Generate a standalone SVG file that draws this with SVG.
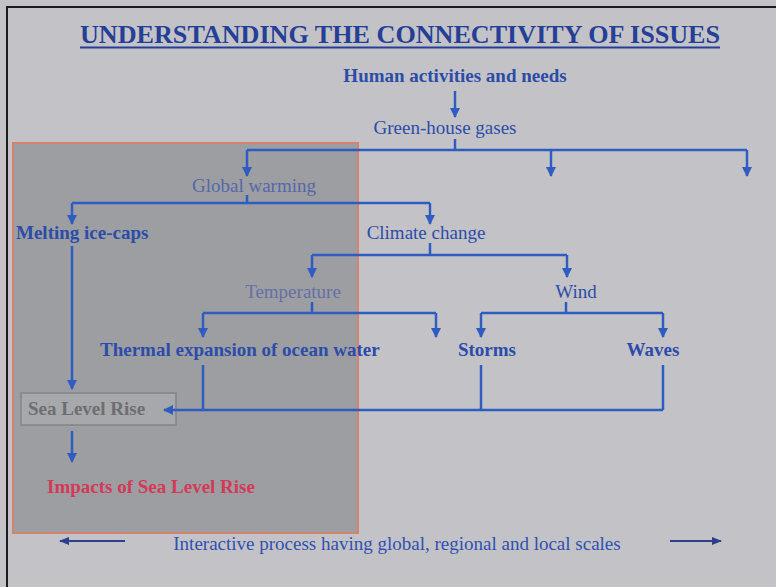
<svg xmlns="http://www.w3.org/2000/svg" width="776" height="587" viewBox="0 0 776 587">
<defs>
<marker id="ah" viewBox="0 0 10 10" refX="9" refY="5" markerWidth="4" markerHeight="4" orient="auto" markerUnits="strokeWidth">
<path d="M0,0 L10,5 L0,10 z" fill="#2f5cc0"/>
</marker>
<marker id="ahd" viewBox="0 0 10 10" refX="9" refY="5" markerWidth="5" markerHeight="5" orient="auto" markerUnits="strokeWidth">
<path d="M0,1 L10,5 L0,9 z" fill="#2b3f8c"/>
</marker>
<style>
text{font-family:"Liberation Serif","Times New Roman",serif;font-size:19px;fill:#2c4ca8}
.b{font-weight:bold}
.mid{text-anchor:middle}
.ln{fill:none;stroke:#2f5cc0;stroke-width:2.5}
.arr{marker-end:url(#ah)}
</style>
</defs>
<rect width="776" height="587" fill="#c3c3c7"/>
<path d="M7,587 V7 H776" fill="none" stroke="#1a1a1a" stroke-width="2"/>
<rect x="13" y="143" width="345" height="390" fill="#9c9ea2" stroke="#d4846e" stroke-width="2"/>

<g id="title">
<text x="400" y="43" class="b mid" style="font-size:25px;fill:#253f96" textLength="640" lengthAdjust="spacingAndGlyphs">UNDERSTANDING THE CONNECTIVITY OF ISSUES</text>
<line x1="80" y1="47.5" x2="720" y2="47.5" stroke="#253f96" stroke-width="2"/>
</g>

<g id="slr">
<rect x="21" y="393" width="155" height="32" fill="#a6a8ac" stroke="#828488" stroke-width="1.5"/>
<text x="28" y="415" class="b" style="fill:#6e6e70">Sea Level Rise</text>
</g>

<g id="connectors">
<line class="ln arr" x1="455" y1="91" x2="455" y2="117"/>
<path class="ln" d="M455,139 V150 M247,150 H747"/>
<path class="ln arr" d="M247,150 V176"/>
<path class="ln arr" d="M551,150 V176"/>
<path class="ln arr" d="M747,150 V176"/>
<path class="ln" d="M247,195 V203 M72,203 H430"/>
<path class="ln arr" d="M72,203 V224"/>
<path class="ln arr" d="M430,203 V224"/>
<path class="ln arr" d="M72,246 V389"/>
<path class="ln" d="M430,243 V255 M312,255 H567"/>
<path class="ln arr" d="M312,255 V277"/>
<path class="ln arr" d="M567,255 V277"/>
<path class="ln" d="M312,302 V313 M203,313 H436"/>
<path class="ln arr" d="M203,313 V337"/>
<path class="ln arr" d="M436,313 V337"/>
<path class="ln" d="M566,302 V313 M481,313 H663"/>
<path class="ln arr" d="M481,313 V337"/>
<path class="ln arr" d="M663,313 V337"/>
<path class="ln" d="M203,365 V410 M481,365 V410 M663,365 V410"/>
<path class="ln arr" d="M663,410 H164"/>
<path class="ln arr" d="M72,431 V462"/>
<path d="M125,541 H60" fill="none" stroke="#2b3f8c" stroke-width="2" marker-end="url(#ahd)"/>
<path d="M670,541 H721" fill="none" stroke="#2b3f8c" stroke-width="2" marker-end="url(#ahd)"/>
</g>

<g id="human"><text x="455" y="82" class="b mid">Human activities and needs</text></g>
<g id="ghg"><text x="445" y="134" class="mid">Green-house gases</text></g>
<g id="global"><text x="254" y="192" class="mid" style="fill:#5668a8">Global warming</text></g>
<g id="melting"><text x="16" y="239" class="b">Melting ice-caps</text></g>
<g id="climate"><text x="426" y="239" class="mid">Climate change</text></g>
<g id="temperature"><text x="293" y="298" class="mid" style="fill:#6670a4">Temperature</text></g>
<g id="wind"><text x="576" y="298" class="mid">Wind</text></g>
<g id="thermal"><text x="100" y="356" class="b">Thermal expansion of ocean water</text></g>
<g id="storms"><text x="487" y="356" class="b mid">Storms</text></g>
<g id="waves"><text x="653" y="356" class="b mid">Waves</text></g>
<g id="impacts"><text x="47" y="493" class="b" style="fill:#d43a58">Impacts of Sea Level Rise</text></g>
<g id="footer"><text x="397" y="550" class="mid" style="fill:#3050b0">Interactive process having global, regional and local scales</text></g>
</svg>
